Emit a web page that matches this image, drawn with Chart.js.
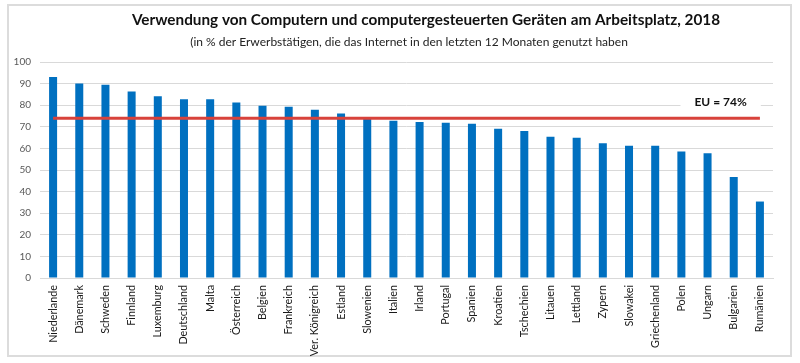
<!DOCTYPE html>
<html>
<head>
<meta charset="utf-8">
<script src="https://cdn.jsdelivr.net/npm/chart.js@4/dist/chart.umd.min.js"></script>
<style>
html,body{margin:0;padding:0;background:#fff;}
#wrap{width:800px;height:363px;position:relative;}
</style>
</head>
<body>
<div id="wrap"><canvas id="c" width="800" height="363"></canvas></div>
<script>
const categories = ["Niederlande","Dänemark","Schweden","Finnland","Luxemburg","Deutschland","Malta","Österreich","Belgien","Frankreich","Ver. Königreich","Estland","Slowenien","Italien","Irland","Portugal","Spanien","Kroatien","Tschechien","Litauen","Lettland","Zypern","Slowakei","Griechenland","Polen","Ungarn","Bulgarien","Rumänien"];
const values = [93, 90, 89.5, 86.4, 84.2, 82.7, 82.7, 81.2, 79.8, 79.3, 77.9, 76.1, 73.7, 72.8, 72.2, 71.9, 71.4, 69.1, 68, 65.4, 64.9, 62.4, 61.2, 61.2, 58.6, 57.8, 46.8, 35.4];
const euValue = 74;
const euLabel = "EU = 74%";
const yTicks = [0,10,20,30,40,50,60,70,80,90,100];
const titleText = "Verwendung von Computern und computergesteuerten Geräten am Arbeitsplatz, 2018";
const subtitleText = "(in % der Erwerbstätigen, die das Internet in den letzten 12 Monaten genutzt haben";

const FONT = "Lato, 'Open Sans', sans-serif";

const decor = {
  id: 'decor',
  beforeDraw(chart) {
    const ctx = chart.ctx;
    ctx.save();
    ctx.fillStyle = '#fff';
    ctx.fillRect(0,0,chart.width,chart.height);
    ctx.strokeStyle = '#dcdcdc';
    ctx.lineWidth = 2;
    ctx.strokeRect(8, 5, 783, 351);
    ctx.restore();
  },
  afterDraw(chart) {
    const ctx = chart.ctx;
    ctx.save();
    ctx.textAlign = 'center';
    ctx.textBaseline = 'middle';
    ctx.fillStyle = '#111';
    ctx.font = "bold 15.3px " + FONT;
    ctx.fillText(titleText, 426, 20);
    ctx.fillStyle = '#222';
    ctx.font = "12px " + FONT;
    ctx.fillText(subtitleText, 409, 42);
    // EU label
    const xs = chart.scales.x, ys = chart.scales.y;
    const lx = (xs.getPixelForValue(25) + xs.getPixelForValue(26)) / 2;
    const ly = ys.getPixelForValue(81.4);
    ctx.font = "bold 12px " + FONT;
    const w = ctx.measureText(euLabel).width;
    ctx.fillStyle = '#fff';
    ctx.fillRect(lx - w/2 - 14, ly - 8, w + 28, 16);
    ctx.fillStyle = '#111';
    ctx.fillText(euLabel, lx, ly);
    ctx.restore();
  }
};

new Chart(document.getElementById('c'), {
  data: {
    labels: categories,
    datasets: [
      {
        type: 'line',
        data: categories.map(() => euValue),
        borderColor: '#D8423B',
        borderWidth: 3,
        pointRadius: 0,
        order: 1
      },
      {
        type: 'bar',
        data: values,
        backgroundColor: '#0070C0',
        barPercentage: 0.34,
        categoryPercentage: 0.9,
        order: 2
      }
    ]
  },
  options: {
    responsive: false,
    animation: false,
    devicePixelRatio: 1,
    layout: { padding: { top: 62, right: 27, left: 0, bottom: 0 } },
    plugins: { legend: { display: false }, tooltip: { enabled: false }, title: { display: false } },
    scales: {
      x: {
        grid: { display: false, drawTicks: false },
        border: { display: true, color: '#d9d9d9' },
        ticks: {
          autoSkip: false, maxRotation: 90, minRotation: 90,
          color: '#1a1a1a', padding: 7,
          font: { family: FONT, size: 10.8 }
        },
        afterFit(s) { s.height = 85; }
      },
      y: {
        min: 0, max: 100,
        afterBuildTicks(s) { s.ticks = yTicks.map(v => ({ value: v })); },
        grid: { color: '#d9d9d9', drawTicks: false },
        border: { display: false },
        ticks: { color: '#595959', padding: 9, font: { family: FONT, size: 10 } },
        afterFit(s) { s.width = 40; }
      }
    }
  },
  plugins: [decor]
});
</script>
</body>
</html>
